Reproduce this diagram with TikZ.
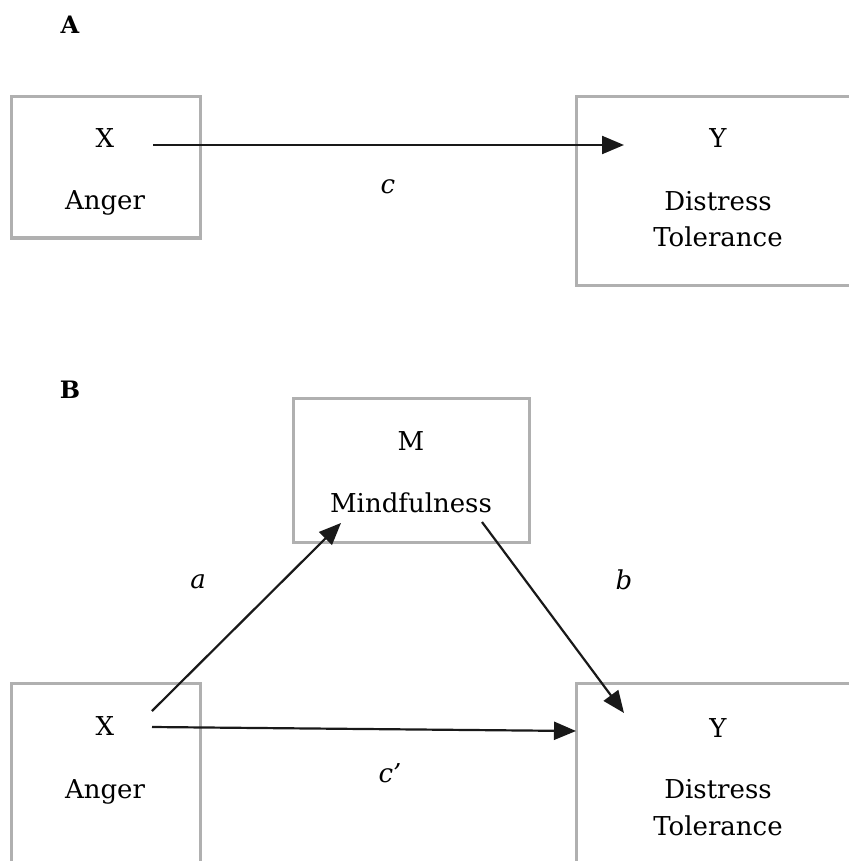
\documentclass[tikz,border=0pt]{standalone}
\usepackage{fontspec}
\setmainfont{DejaVu Serif}
\usepackage{tikz}
\usetikzlibrary{arrows.meta, positioning}
\definecolor{boxgray}{HTML}{B0B0B0}
\tikzset{
    varbox/.style = {draw=boxgray, line width=1.5pt, rectangle, fill=none, inner sep=0em},
    textnode/.style = {draw=none, fill=none, rectangle, inner sep=0em, anchor=base, font=\fontsize{13}{15}\selectfont},
    pathlabel/.style = {draw=none, fill=none, inner sep=0em, font=\fontsize{13}{15}\selectfont\itshape},
    panelnode/.style = {draw=none, fill=none, inner sep=0em, font=\fontsize{12}{14}\selectfont\bfseries},
    connect/.style = {black!90, line width=1.1pt, -{Triangle[length=11pt, width=9pt]}}
}

\begin{document}
\begin{tikzpicture}[x=0.5pt, y=-0.5pt]
    \useasboundingbox (0,0) rectangle (849,861);

    % panel A
    \node [panelnode, name=panelA] at (70,25) {A};
    \node [varbox, name=XA, minimum width=94.5pt, minimum height=70.5pt] at (105.5,167.5) {};
    \node [textnode, name=XAsym] at (105,148) {X};
    \node [textnode, name=XAname] at (105,210) {Anger};
    \node [varbox, name=YA, minimum width=150pt, minimum height=94pt] at (726,191) {};
    \node [textnode, name=YAsym] at (718,148) {Y};
    \node [textnode, name=YAname] at (718,211) {Distress};
    \node [textnode, name=YAname2] at (718,247) {Tolerance};

    \coordinate (XAout) at (153,145);
    \coordinate (YAin) at (624,145);
    \draw (XAout) edge[connect] (YAin);
    \node [pathlabel, name=labc] at (388,187) {c};

    % panel B
    \node [panelnode, name=panelB] at (70,390) {B};
    \node [varbox, name=M, minimum width=118pt, minimum height=72pt] at (411,470) {};
    \node [textnode, name=Msym] at (411,450) {M};
    \node [textnode, name=Mname] at (411,512) {Mindfulness};
    \node [varbox, name=XB, minimum width=94.5pt, minimum height=120pt] at (105.5,803) {};
    \node [textnode, name=XBsym] at (105,735) {X};
    \node [textnode, name=XBname] at (105,798) {Anger};
    \node [varbox, name=YB, minimum width=150pt, minimum height=120pt] at (726,803) {};
    \node [textnode, name=YBsym] at (718,737) {Y};
    \node [textnode, name=YBname] at (718,798) {Distress};
    \node [textnode, name=YBname2] at (718,835) {Tolerance};

    \coordinate (XBup) at (152,711);
    \coordinate (Min) at (341,523);
    \coordinate (Mout) at (482,522);
    \coordinate (YBtop) at (624,713);
    \coordinate (XBout) at (152,727);
    \coordinate (YBin) at (576,731);

    \draw (XBup) edge[connect] (Min);
    \draw (Mout) edge[connect] (YBtop);
    \draw (XBout) edge[connect] (YBin);

    \node [pathlabel, name=laba] at (198,582) {a};
    \node [pathlabel, name=labb] at (624,580) {b};
    \node [pathlabel, name=labcp] at (390,773) {c’};
\end{tikzpicture}
\end{document}
